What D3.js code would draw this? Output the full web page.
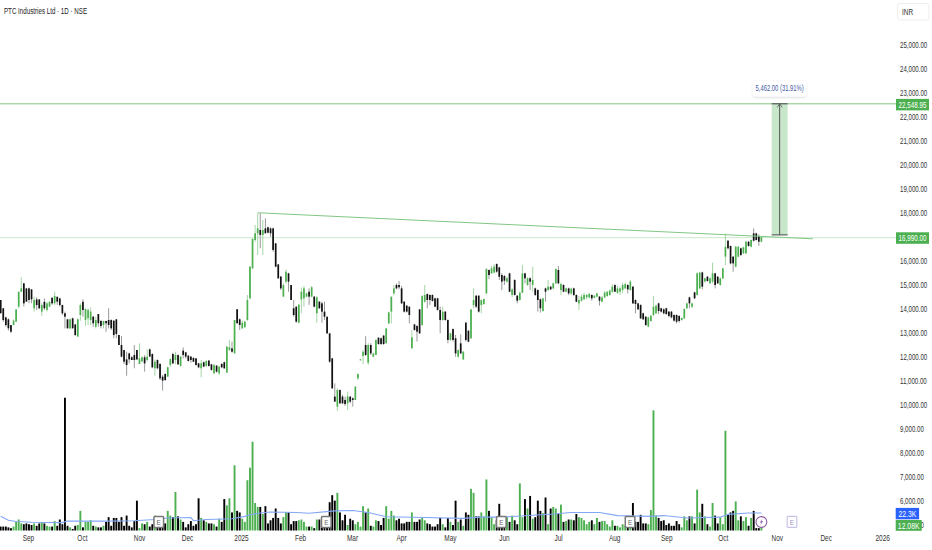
<!DOCTYPE html>
<html><head><meta charset="utf-8">
<script src="https://cdnjs.cloudflare.com/ajax/libs/d3/7.8.5/d3.min.js"></script>
<style>html,body{margin:0;padding:0;background:#fff}svg{display:block}text{font-family:"Liberation Sans",Arial,sans-serif}</style>
</head><body><div id="c"></div>
<script>
const title="PTC Industries Ltd · 1D · NSE";
const currency="INR";
const opens=[
14375,14030,13650,13570,13330,13330,13470,14100,14720,15070,
14860,14860,14820,14030,14400,14400,13890,14300,13960,14100,
14470,14240,14510,14440,14170,13820,13570,13190,13610,13360,
12850,13750,14300,13540,13610,13540,13680,13260,13790,13510,
13330,13500,13540,13540,13510,13570,12920,12500,12290,11900,
12150,11990,12080,12290,11710,11810,11990,11875,12320,12125,
11530,11875,11710,11180,11290,11180,11670,12125,11875,12080,
11625,12265,12195,12055,12015,11960,11945,11735,11530,11780,
11625,11850,11695,11320,11640,11320,11710,11780,11350,12290,
12360,12150,13990,
13570,13195,13235,13540,14445,15695,16875,17155,17290,17085,17360,17405,17360,17360,16735,15860,15350,
14515,15140,15485,15000,14030,14095,13430,14400,14445,14515,14720,14515,14515,13820,14305,14235,13890,13680,12985,11945,
10350,9930,10625,10350,10210,10070,10350,10280,10210,11110,11860,12040,12500,11765,12500,12015,12085,12805,12780,12890,
12570,13400,13890,14650,15000,15000,14860,14305,14140,14095,12360,13360,13290,13985,13335,14305,14625,14585,14585,14445,
14445,13960,13540,13890,13540,12710,13165,12780,12015,12570,
11900,13430,13095,12780,14165,14555,14555,14165,14210,14650,15625,15485,15515,15875,15735,15415,15375,15140,15485,14585,
15210,14555,14375,14680,15485,15000,15280,15000,14860,14790,14405,13915,14860,14790,14930,14860,15070,15625,14790,15000,
14720,14860,14650,14860,14585,14235,14345,14405,14485,14485,14585,14470,14515,14515,14305,14485,14540,14585,14720,15000,
14680,14720,14790,14860,15000,14790,14930,14375,14235,14165,13820,13680,13265,13500,13750,13820,14235,14030,13985,14030,
13890,13890,13750,13750,13710,13540,13610,14030,14485,14095,14695,14585,
14860,15525,15140,15345,15070,15140,15485,15345,15000,15275,16180,16845,16625,16180,15765,16180,16530,16320,16320,16805,
16595,17150,17150,17040,16805];
const highs=[
14375,14030,13680,13610,13330,13570,13990,14720,15320,15070,
14860,14890,14820,14510,14490,14400,14240,14440,14300,14300,
14470,14720,14510,14470,14170,13890,13570,13610,13640,13360,
13610,14240,14400,14030,14030,14060,13710,13680,13790,13510,
13510,13510,14030,13570,13540,13570,12920,12880,12290,12220,
12180,12040,12500,12290,12570,12040,12080,12320,12350,12150,
11900,11900,11740,11250,11320,11600,11940,12180,12220,12110,
12040,12400,12220,12080,12040,11990,11940,11760,11880,11810,
11880,11880,11710,11710,11670,11620,11740,11810,12460,12710,
12640,13540,13990,
13610,13510,13510,14580,15790,16950,17500,17990,17990,17710,17780,17430,17400,17390,16740,15860,15380,
15070,15650,15510,15000,14380,14120,14210,14900,14960,14680,14860,14960,14540,14540,14330,14310,14310,13680,13010,11940,
10900,10700,10650,10420,10350,10560,10370,10320,10790,11320,11900,12290,12870,12570,12570,12180,12740,12820,12810,12920,
13190,13890,14510,15000,15070,15170,14960,14330,14170,14120,13120,13370,13330,13990,14580,15000,14650,14610,14610,14470,
14470,14100,14100,13920,13570,13010,13190,12920,12320,12940,
12250,13470,13120,13990,14860,14580,14580,14400,14440,15700,15650,15790,15860,15900,15760,15490,15420,15350,15510,14860,
15240,14580,14720,15830,15510,15320,15320,15760,14890,14820,14440,14470,14890,15210,14960,15100,15700,15790,15100,15030,
14890,14890,14890,14890,14610,14540,14610,14680,14630,14680,14610,14580,14680,14540,14540,14750,14750,14820,15030,15030,
14960,14930,15100,15100,15030,15210,14960,14400,14260,14200,13850,13710,13680,13750,14540,14170,14260,14055,14030,14055,
13920,13920,13780,13780,13740,13650,14030,14260,14510,14260,14720,15530,
15555,15555,15305,15375,15320,15930,15510,15375,15320,15720,17150,16875,16650,16210,16625,16625,16555,16600,16830,16830,
16900,17360,17180,17110,17014];
const lows=[
13820,13470,13260,13100,12990,13330,13470,14030,14720,14100,
14310,14240,14240,13890,13960,13990,13710,13960,13890,14070,
14170,14170,14170,14100,13750,13190,13190,13150,13190,12880,
12850,13510,13680,13300,13330,13330,13260,13190,13260,13190,
13190,13050,13190,13120,12780,12780,12500,11990,11710,11220,
11740,11880,11530,11880,11710,11810,11390,11810,12010,11530,
11220,11490,11040,10600,11010,11180,11600,11710,11710,11670,
11600,11940,11940,11810,11760,11780,11640,11530,11150,11570,
11600,11600,11430,11290,11350,11250,11530,11500,11350,12260,
12180,12150,13400,
13125,13170,13240,13510,14400,15670,16800,16250,16530,16250,17150,17150,17010,16390,15740,15250,14790,
14510,15070,14720,14380,13680,13430,13400,13820,14100,14490,14170,14490,14070,13430,14000,13430,13540,12960,11760,10670,
10140,9760,10040,10040,9960,9790,10070,9930,10210,11040,11860,11710,12040,11670,12080,11990,12080,12510,12500,12510,
12570,13370,13400,14580,14820,14820,14210,13850,13850,13400,12360,13100,12640,12960,13290,14260,14030,14170,14310,14070,
13930,12990,13510,13510,12570,12680,12640,12010,11950,12120,
11875,12640,12610,12750,14030,14030,13850,13820,14170,14625,15240,15460,15490,15510,15210,14790,15000,15100,14700,14490,
14555,14235,14350,14650,15070,14970,14790,14720,14540,13890,13850,13890,14305,14760,14790,14820,15040,15030,14580,14700,
14700,14580,14580,14540,14280,13960,14305,14375,14400,14440,14350,14440,14490,14140,14280,14440,14510,14555,14680,14700,
14625,14580,14650,14830,14650,14760,14210,13820,13960,13580,13540,13290,13235,13470,13710,13790,13790,13850,13780,13750,
13650,13610,13470,13400,13430,13510,13580,14000,14030,14030,14420,14555,
14820,14820,15110,15140,15040,15070,14860,15040,14970,15250,15830,16485,15860,15555,15735,16150,16210,16290,16290,16600,
16570,16805,16850,16625,16780];
const closes=[
13820,13540,13330,13195,13055,13515,13985,14720,14860,14235,
14305,14375,14405,14375,14165,14030,14165,14030,14235,14305,
14235,14540,14305,14165,13820,13680,13195,13570,13195,12915,
13570,14165,13960,14000,13960,13890,13405,13540,13405,13290,
13500,13405,13335,13195,12915,12960,12500,12015,11805,11665,
11900,11875,11875,11900,11945,11985,11735,12015,12015,11570,
11805,11530,11110,11015,11040,11570,11915,11735,12085,11695,
12015,12085,12015,11835,11875,11805,11665,11570,11735,11600,
11835,11625,11460,11665,11390,11600,11570,11530,12430,12405,
12220,13540,13405,
13335,13430,13470,14375,15765,16915,17155,17360,17085,17290,17155,17180,17155,16460,15765,15280,14860,
15000,15555,15140,14375,13750,13470,14180,14720,14860,14650,14515,14905,14095,14485,14030,13890,13680,12985,11805,10695,
10140,10625,10070,10070,10040,10350,10140,10210,10765,11290,11905,12220,12085,12500,12150,12150,12710,12540,12540,12540,
13195,13860,14515,14860,14860,14905,14235,13890,13890,13750,12820,13125,13055,12985,14540,14585,14375,14375,14335,14095,
13960,13540,13890,13540,12710,12985,12710,12150,12290,12150,
12220,12710,12640,13985,14375,14095,13890,14375,14415,15665,15415,15695,15765,15555,15345,15140,15180,15280,14720,14820,
14585,14345,14680,15485,15280,15280,15140,15210,14585,14375,14030,14445,14720,14930,14820,15070,15665,15070,15040,14720,
14860,14650,14850,14585,14305,14375,14515,14585,14585,14625,14445,14555,14650,14345,14485,14680,14720,14765,14930,14720,
14860,14860,15000,15040,14820,15140,14235,14210,13985,13610,13570,13335,13650,13720,14095,14140,13915,13890,13820,13790,
13710,13650,13515,13470,13500,13625,14000,14235,14235,14235,14445,15485,
15515,14930,15280,15165,15280,15485,15000,15070,15275,15695,16595,16530,15900,15900,16595,16595,16250,16570,16805,16625,
16875,16845,16875,16805,16990];
/* volume in thousands of shares */
const volumes=[
5,5,5,4,3,5,11,14,9,8,9,8,7,9,6,9,11,9,6,5,
5,12,6,14,8,169,6,4,2,6,7,25,4,11,11,13,6,5,4,4,
6,11,17,6,16,16,11,17,6,19,6,4,12,38,3,9,8,11,5,8,
19,11,9,8,9,25,19,17,49,18,14,11,4,8,12,6,8,41,16,13,
11,9,9,8,5,15,11,40,32,41,23,83,25,23,15,11,64,80,113,35,
30,30,21,31,9,13,16,28,16,9,17,23,23,8,12,12,13,14,11,5,
5,5,3,14,14,4,17,8,36,45,38,48,23,13,20,7,15,13,8,11,
5,31,23,28,6,5,13,12,7,16,31,15,25,19,13,15,9,9,11,11,
23,11,11,14,16,13,9,8,5,5,8,16,8,4,16,11,7,38,11,14,
6,23,20,53,48,18,18,23,18,65,25,17,8,13,34,17,13,17,11,19,
13,8,60,17,40,28,44,15,17,38,25,22,42,8,28,30,28,21,33,11,
12,14,14,13,21,17,16,13,8,11,13,8,16,11,12,12,8,5,13,6,
6,4,8,6,11,8,35,11,11,20,9,9,8,26,153,19,16,12,13,7,
9,6,6,12,8,4,18,13,18,18,9,52,23,34,18,8,5,35,19,9,
17,8,127,21,23,25,37,13,18,12,17,6,16,25,3,3,12.08];
/* volume moving average, read at these bar numbers */
const maBars=[0,3,6,12,24,26,40,52,60,65,74,75,80,90,95,97,100,105,115,120,130,137,143,150,165,180,187,195,215,222,233,240,253,258,267,280,283,291,296];
const maValues=[18,13,11.5,10.5,10,12,12,12.5,14,16,16.5,12.5,14,15,18,20,22,23.5,23,22,25,25.5,23,17.5,16.5,15.5,17,17,21,23,23,19,18,19,16,17,20.5,22.3,22.3];
const priceTicks=[25000,24000,23000,22000,21000,20000,19000,18000,17000,16000,15000,14000,13000,12000,11000,10000,9000,8000,7000,6000,5000];
const timeTickBars=[10.6,31.6,53.8,72.5,93.5,116.5,136.7,155.8,174.8,195.8,216.9,238.7,259,281,302,321,343];
const timeTickLabels=["Sep","Oct","Nov","Dec","2025","Feb","Mar","Apr","May","Jun","Jul","Aug","Sep","Oct","Nov","Dec","2026"];
const targetLevel=22548.95, breakoutLevel=16990, measureBase=17086.95;
const measureLabel="5,462.00 (31.91%)";
const trendBars=[100,316], trendPrices=[18010,16925];
const measureBars=[300,306.2];
const earningsBars=[61.5,126.7,194.8,244.9];
const futureEarningsBar=307.9, dividendBar=296;
const maLast="22.3K", volLast="12.08K";

const W=932,H=550;
const svg=d3.select("#c").append("svg").attr("width",W).attr("height",H).attr("viewBox",[0,0,W,H]);
const x=d3.scaleLinear().domain([0,296]).range([0.7,761.4]);
const y=d3.scaleLinear().domain([25000,5000]).range([45,525]);
const v=d3.scaleLinear().domain([0,168.7]).range([530.5,398]);
const GREEN="#4caf50",BLACK="#111",LINE="#81c784";
const bars=d3.range(opens.length);
const up=i=>closes[i]>=opens[i];
// narrow each text horizontally about its own anchor point
const sq=(sel,f=0.68)=>sel.each(function(){const t=d3.select(this),ax=+t.attr("x")||0;t.attr("transform",`translate(${ax},0) scale(${f},1) translate(${-ax},0)`);});

// horizontal levels
svg.append("line").attr("x1",0).attr("x2",896).attr("y1",y(targetLevel)).attr("y2",y(targetLevel)).attr("stroke",LINE).attr("stroke-width",1);
svg.append("line").attr("x1",0).attr("x2",896).attr("y1",y(breakoutLevel)+0.3).attr("y2",y(breakoutLevel)+0.3).attr("stroke","#d5ecd6").attr("stroke-width",1.2);

// volume
svg.append("g").selectAll("rect").data(bars).join("rect")
 .attr("x",i=>x(i)-0.95).attr("width",1.9).attr("y",i=>v(volumes[i])).attr("height",i=>v(0)-v(volumes[i]))
 .attr("fill",i=>up(i)?GREEN:"#000");
svg.append("path").attr("fill","none").attr("stroke","#82a7f5").attr("stroke-width",1.1)
 .attr("d",d3.line().x(d=>x(d[0])).y(d=>v(d[1]))(maBars.map((b,i)=>[b,maValues[i]])));

// candles
const gc=svg.append("g");
gc.selectAll("line").data(bars).join("line")
 .attr("x1",i=>x(i)).attr("x2",i=>x(i)).attr("y1",i=>y(highs[i])).attr("y2",i=>y(lows[i]))
 .attr("stroke",i=>up(i)?"#a5d6a7":"#9a9a9a").attr("stroke-width",1);
gc.selectAll("rect").data(bars).join("rect")
 .attr("x",i=>x(i)-0.85).attr("width",1.7)
 .attr("y",i=>y(Math.max(opens[i],closes[i])))
 .attr("height",i=>Math.max(0.8,Math.abs(y(opens[i])-y(closes[i]))))
 .attr("fill",i=>up(i)?GREEN:BLACK);

// trend line
svg.append("line").attr("x1",x(trendBars[0])).attr("x2",x(trendBars[1])).attr("y1",y(trendPrices[0])).attr("y2",y(trendPrices[1]))
 .attr("stroke",LINE).attr("stroke-width",1);

// measure
const mx0=x(measureBars[0]),mx1=x(measureBars[1]),mc=(mx0+mx1)/2;
svg.append("rect").attr("x",mx0).attr("width",mx1-mx0).attr("y",y(targetLevel)).attr("height",y(measureBase)-y(targetLevel)).attr("fill","#c8e6c9");
svg.append("line").attr("x1",mc).attr("x2",mc).attr("y1",y(targetLevel)).attr("y2",y(measureBase)).attr("stroke","#555").attr("stroke-width",1);
[targetLevel,measureBase].forEach(p=>svg.append("line").attr("x1",mx0).attr("x2",mx1).attr("y1",y(p)).attr("y2",y(p)).attr("stroke","#444").attr("stroke-width",1));
svg.append("path").attr("d",`M${mc-2.5},${y(targetLevel)+3.5}L${mc},${y(targetLevel)}L${mc+2.5},${y(targetLevel)+3.5}`).attr("fill","none").attr("stroke","#555").attr("stroke-width",0.8);
const defs=svg.append("defs");
const fl=defs.append("filter").attr("id","sh").attr("x","-20%").attr("y","-30%").attr("width","140%").attr("height","170%");
fl.append("feDropShadow").attr("dx",0).attr("dy",1).attr("stdDeviation",1.2).attr("flood-color","#000").attr("flood-opacity",0.16);
svg.append("rect").attr("x",mc-26.8).attr("y",81).attr("width",53.4).attr("height",15.6).attr("rx",2.5).attr("fill","#fff").attr("filter","url(#sh)");
svg.append("text").attr("x",mc).attr("y",91.5).attr("text-anchor","middle").attr("font-size",9).attr("fill","#3f5c9f").text(measureLabel).call(sq,0.65);

// axes
const ya=d3.axisRight(y).tickValues(priceTicks).tickFormat(d3.format(",.2f")).tickSize(0).tickPadding(0);
const yg=svg.append("g").attr("transform","translate(900,0)").call(ya);
yg.select(".domain").remove();
yg.selectAll("text").attr("font-size",9).attr("fill","#333").attr("font-family","Liberation Sans").call(sq);
const xa=d3.axisBottom(x).tickValues(timeTickBars).tickFormat((d,i)=>timeTickLabels[i]).tickSize(0).tickPadding(0);
const xg=svg.append("g").attr("transform","translate(0,535)").call(xa);
xg.select(".domain").remove();
xg.selectAll("text").attr("font-size",9).attr("fill","#333").attr("font-family","Liberation Sans").call(sq,0.72);

// price tags
function tag(x0,w,cy,h,fill,label,f){
 svg.append("rect").attr("x",x0).attr("y",cy-h/2).attr("width",w).attr("height",h).attr("fill",fill);
 svg.append("text").attr("x",x0+w/2).attr("y",cy+3.3).attr("text-anchor","middle").attr("font-size",9.5).attr("fill","#fff").text(label).call(sq,f);
}
tag(896,33,y(targetLevel)+0.8,11.5,GREEN,d3.format(",.2f")(targetLevel),0.66);
tag(896,33,y(breakoutLevel)+0.8,11.5,GREEN,d3.format(",.2f")(breakoutLevel),0.66);
tag(895.7,23.4,513.6,11.4,"#2962ff",maLast,0.72);
tag(895.7,26,525.4,10.8,GREEN,volLast,0.72);

// earnings and dividend marks
function earn(cx,stroke,sw,col){
 svg.append("rect").attr("x",cx-4.8).attr("y",516.4).attr("width",9.6).attr("height",11).attr("rx",0.8).attr("fill","#fff").attr("stroke",stroke).attr("stroke-width",sw);
 svg.append("text").attr("x",cx).attr("y",524.9).attr("text-anchor","middle").attr("font-size",8).attr("fill",col).text("E").call(sq,0.8);
}
earningsBars.forEach(b=>earn(x(b),"#777",1.5,"#666"));
earn(x(futureEarningsBar),"#c9c2e8",1.2,"#9a93c4");
svg.append("circle").attr("cx",x(dividendBar)).attr("cy",522).attr("r",5.4).attr("fill","#fff").attr("stroke","#8e5ba6").attr("stroke-width",1.1);
svg.append("path").attr("d",(()=>{const c=x(dividendBar);return `M${c+1.2},518.6L${c-1.6},522.6L${c},522.6L${c-1.2},525.4L${c+1.7},521.2L${c+0.1},521.2Z`;})()).attr("fill","#8e5ba6");

// header
svg.append("text").attr("x",4).attr("y",14.5).attr("font-size",9).attr("fill","#222").text(title).call(sq,0.69);
svg.append("rect").attr("x",897.5).attr("y",3.5).attr("width",31.5).attr("height",16.5).attr("rx",2.5).attr("fill","#fff").attr("stroke","#eeeeee").attr("stroke-width",1);
svg.append("text").attr("x",902).attr("y",15).attr("font-size",9).attr("fill","#333").text(currency).call(sq,0.72);
</script></body></html>
